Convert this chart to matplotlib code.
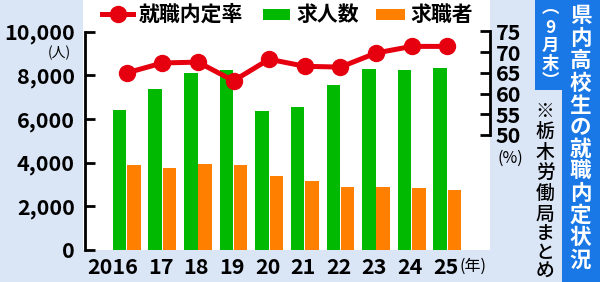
import matplotlib
matplotlib.use('Agg')
import matplotlib.pyplot as plt
import numpy as np
from matplotlib.patches import Rectangle
from matplotlib.lines import Line2D
from matplotlib.transforms import ScaledTranslation

# ---------------- data ----------------
years = ['2016', '17', '18', '19', '20', '21', '22', '23', '24', '25']
job_offers = [6400, 7350, 8080, 8260, 6350, 6540, 7550, 8280, 8260, 8340]   # 求人数
job_seekers = [3890, 3770, 3930, 3890, 3390, 3170, 2900, 2900, 2840, 2750]  # 求職者
offer_rate = [65.0, 67.4, 67.6, 63.1, 68.3, 66.6, 66.4, 69.8, 71.4, 71.4]   # 就職内定率(%)
left_ticks = [0, 2000, 4000, 6000, 8000, 10000]
left_labels = ['0', '2,000', '4,000', '6,000', '8,000', '10,000']
right_ticks = [50, 55, 60, 65, 70, 75]
legend_labels = ['就職内定率', '求人数', '求職者']
title_text = '県内高校生の就職内定状況'
sub_text = ['︵', '9', '月', '末', '︶']
note_text = '※栃木労働局まとめ'

# ---------------- style ----------------
BG = '#dae5f6'
GREEN = '#00b900'
ORANGE = '#ff8000'
RED = '#e6000f'
BLUE = '#1a78e6'
plt.rcParams['font.family'] = ['Noto Sans CJK JP', 'DejaVu Sans']
NUMSIZE = 15.5

W, H = 600, 282
fig = plt.figure(figsize=(W / 100, H / 100), dpi=100)
fig.patch.set_facecolor(BG)

def fx(px):
    return px / W

def fy(py):
    return 1 - py / H

# white plot background (includes legend strip)
fig.add_artist(Rectangle((fx(83), fy(250)), (490 - 83) / W, 250 / H,
                         transform=fig.transFigure, facecolor='white',
                         edgecolor='none', zorder=-5))
# blue title boxes
fig.add_artist(Rectangle((fx(535), fy(90)), (600 - 535) / W, 90 / H,
                         transform=fig.transFigure, facecolor=BLUE,
                         edgecolor='none', zorder=-5))
fig.add_artist(Rectangle((fx(562), fy(282)), (600 - 562) / W, 282 / H,
                         transform=fig.transFigure, facecolor=BLUE,
                         edgecolor='none', zorder=-5))

# ---------------- axes ----------------
top_px, bot_px = 31.5, 250
ax = fig.add_axes([fx(84.5), fy(bot_px), (490 - 84.5) / W, (bot_px - top_px) / H])
ax.patch.set_alpha(0)
x = np.arange(len(years))
ax.bar(x - 0.2, job_offers, width=0.38, color=GREEN, zorder=2)
ax.bar(x + 0.2, job_seekers, width=0.38, color=ORANGE, zorder=2)
ax.set_xlim(-1.185, 10.2)
ax.set_ylim(0, 10000)
ax.set_yticks(left_ticks)
ax.set_yticklabels(left_labels)
ax.set_xticks(x)
ax.set_xticklabels(years)
for s in ['top', 'right', 'bottom']:
    ax.spines[s].set_visible(False)
ax.spines['left'].set_linewidth(2)
ax.tick_params(axis='y', direction='in', length=7, width=2, pad=7, labelsize=NUMSIZE)
ax.tick_params(axis='x', length=0, pad=5, labelsize=NUMSIZE)
shift = ScaledTranslation(0.11, 0, fig.dpi_scale_trans)
for lab in ax.get_xticklabels():
    lab.set_fontweight('bold')
    lab.set_ha('right')
    lab.set_transform(lab.get_transform() + shift)
for lab in ax.get_yticklabels():
    lab.set_fontweight('bold')

ax2 = ax.twinx()
px_per_pct = 4.14
ax2.set_ylim(75 - (bot_px - top_px) / px_per_pct, 75)
ax2.plot(x, offer_rate, color=RED, lw=3.6, marker='o', ms=11.5, zorder=5)
ax2.set_yticks(right_ticks)
for s in ['top', 'left', 'bottom']:
    ax2.spines[s].set_visible(False)
ax2.spines['right'].set_linewidth(2)
ax2.spines['right'].set_bounds(50, 75)
ax2.tick_params(axis='y', direction='in', length=7, width=2, pad=4, labelsize=NUMSIZE)
for lab in ax2.get_yticklabels():
    lab.set_fontweight('bold')

# unit labels
fig.text(fx(59), fy(53), '(人)', ha='center', va='center', fontsize=10)
fig.text(fx(473), fy(266), '(年)', ha='center', va='center', fontsize=11.5)
fig.text(fx(510), fy(158), '(%)', ha='center', va='center', fontsize=11.5)

# ---------------- legend ----------------
ly = fy(14)
fig.add_artist(Line2D([fx(102), fx(133)], [ly, ly], color=RED, lw=3.6,
                      transform=fig.transFigure))
fig.add_artist(Line2D([fx(117.5)], [ly], color=RED, marker='o', ms=11.5,
                      transform=fig.transFigure))
fig.text(fx(139), ly, legend_labels[0], ha='left', va='center', fontsize=15, fontweight='bold')
fig.add_artist(Rectangle((fx(263), fy(19.5)), 27 / W, 10.5 / H, transform=fig.transFigure,
                         facecolor=GREEN, edgecolor='none'))
fig.text(fx(296), ly, legend_labels[1], ha='left', va='center', fontsize=15, fontweight='bold')
fig.add_artist(Rectangle((fx(376), fy(19.5)), 29 / W, 10.5 / H, transform=fig.transFigure,
                         facecolor=ORANGE, edgecolor='none'))
fig.text(fx(410), ly, legend_labels[2], ha='left', va='center', fontsize=15, fontweight='bold')

# ---------------- vertical text (one character per text) ----------------
def vtext(chars, xc, centers, size, color, weight):
    for ch, yc in zip(chars, centers):
        fig.text(fx(xc), fy(yc), ch, ha='center', va='center', fontsize=size,
                 color=color, fontweight=weight)

title_centers = [16, 38.5, 61, 83, 105, 127, 149, 171, 193, 215, 237, 260]
vtext(list(title_text), 580.5, title_centers, 15.5, 'white', 'bold')
vtext(sub_text, 550, [9, 28, 46, 64, 81.5], 12.5, 'white', 'bold')
note_centers = [111.5, 131.5, 152, 172, 193, 214, 234, 253, 271]
vtext(list(note_text), 545, note_centers, 13.5, 'black', 'medium')

fig.savefig('out.png', dpi=100, facecolor=BG)
